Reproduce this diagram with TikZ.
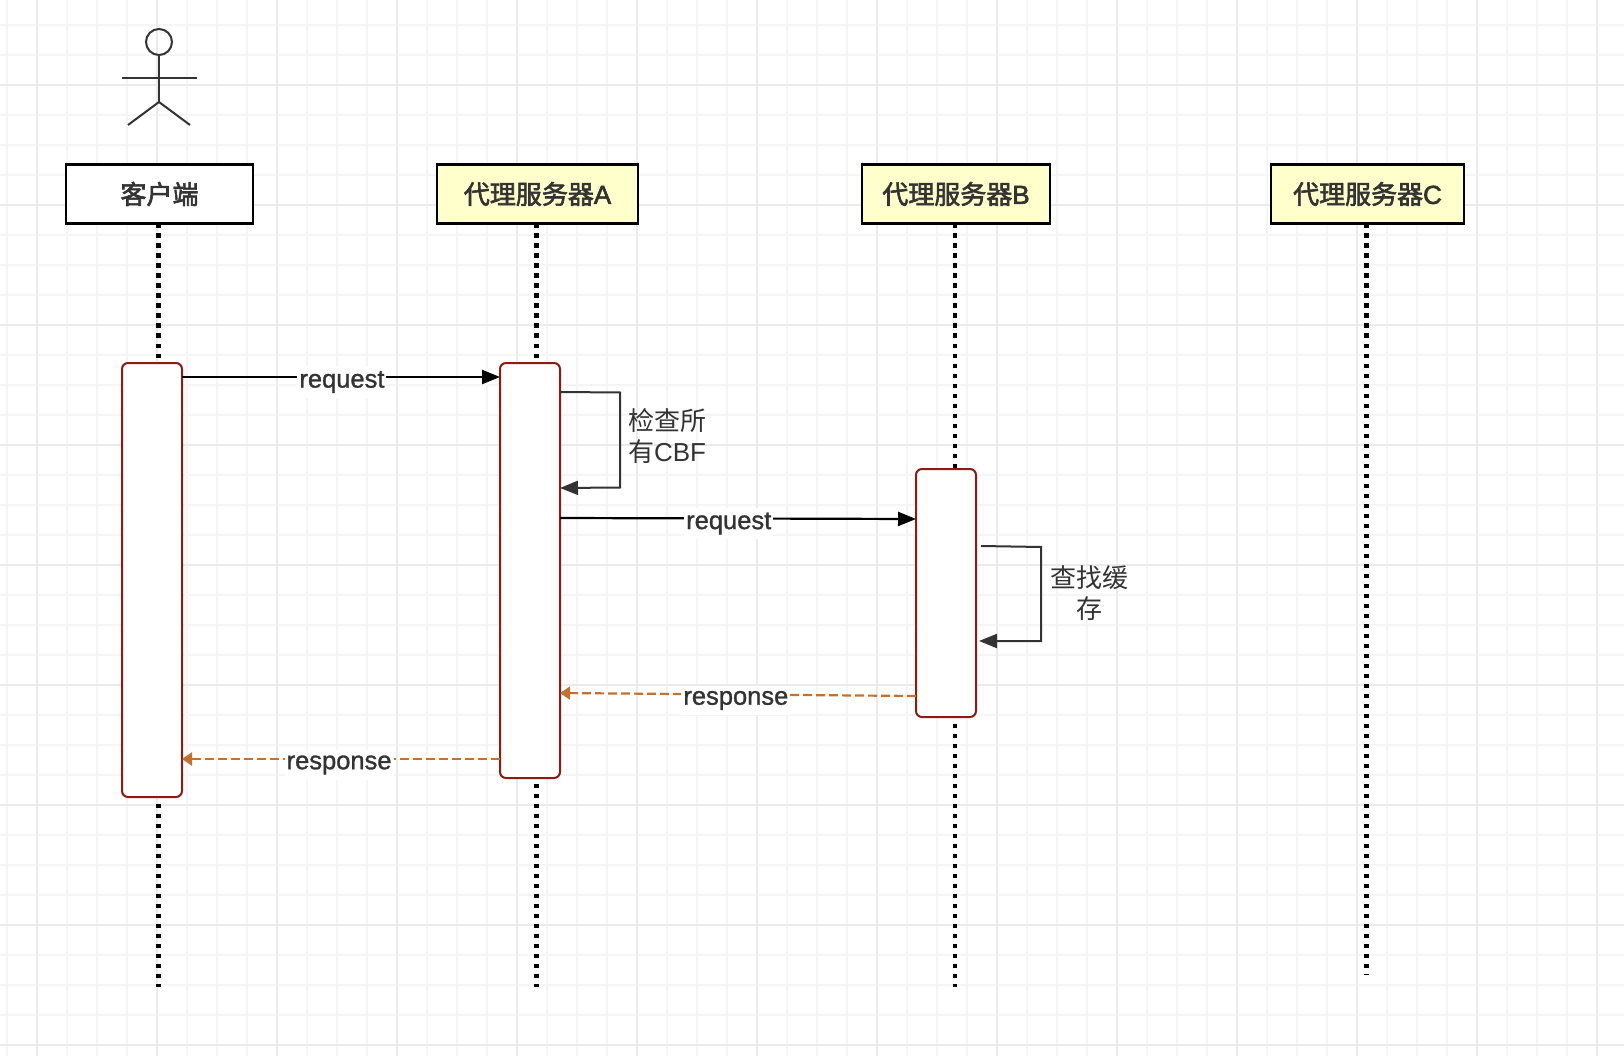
\documentclass[tikz,border=0pt]{standalone}
\usepackage{fontspec}
\setmainfont{Liberation Sans}
\newfontfamily\cjk{Noto Sans CJK SC}
\usepackage{tikz}
\usetikzlibrary{arrows.meta}
\definecolor{gridminor}{HTML}{F5F5F5}
\definecolor{gridmajor}{HTML}{EBEBEB}
\definecolor{noteyellow}{HTML}{FFFFCC}
\definecolor{activered}{HTML}{8F1A12}
\definecolor{replyorange}{HTML}{C4702E}
\definecolor{inkgrey}{HTML}{333333}
% outlined text, a bit heavier than the regular weight
\newcommand{\heavytext}[2]{\special{pdf:code q 2 Tr #1 w 0.2 0.2 0.2 RG}#2\special{pdf:code Q}}
\tikzset{
  head/.style = {draw = black, line width = 2.2pt, minimum height = 59pt, inner sep = 0pt,
                 outer sep = 0pt, text = inkgrey, font = \fontsize{26}{30}\selectfont},
  lifeline/.style = {line width = 4.5pt, dash pattern = on 4.5pt off 5.5pt},
  activation/.style = {draw = activered, fill = white, line width = 2pt, rounded corners = 6pt,
                       minimum width = 60pt, inner sep = 0pt, outer sep = 0pt},
  request/.style = {draw = black, line width = 2.2pt, -{Triangle[length = 18pt, width = 14pt]}},
  selfcall/.style = {draw = inkgrey, line width = 2pt, -{Triangle[length = 18pt, width = 14pt]}},
  response/.style = {draw = replyorange, line width = 2.2pt, dash pattern = on 9pt off 4pt,
                     -{Triangle[length = 10pt, width = 13pt]}},
  msg/.style = {fill = white, text = inkgrey, inner xsep = 2pt, inner ysep = 5pt,
                font = \fontsize{25.5}{30}\selectfont},
  note/.style = {text = inkgrey, align = center, inner sep = 0pt,
                 font = \fontsize{26}{31.5}\selectfont}
}

\begin{document}
\begin{tikzpicture}[x = 1pt, y = -1pt]
      \useasboundingbox (0, 0) rectangle (1624, 1056);
      \fill [white] (0, 0) rectangle (1624, 1056);
      % background grid
      \begin{scope}
        \clip (0, 0) rectangle (1624, 1056);
        \foreach \gx in {0, ..., 54}
          \draw [gridminor, line width = 2pt] ({7 + 30 * \gx}, 0) -- ++(0, 1056);
        \foreach \gy in {0, ..., 35}
          \draw [gridminor, line width = 2pt] (0, {25 + 30 * \gy}) -- ++(1624, 0);
        \foreach \gx in {0, ..., 13}
          \draw [gridmajor, line width = 2pt] ({37 + 120 * \gx}, 0) -- ++(0, 1056);
        \foreach \gy in {0, ..., 8}
          \draw [gridmajor, line width = 2pt] (0, {85 + 120 * \gy}) -- ++(1624, 0);
      \end{scope}

      % stick figure
      \node [circle, draw = inkgrey, line width = 2pt, minimum size = 26pt, inner sep = 0pt,
             outer sep = 0pt] (actorHead) at (159, 42) {};
      \coordinate (actorHip) at (159, 102);
      \coordinate (actorArmL) at (122, 78);
      \coordinate (actorArmR) at (197, 78);
      \coordinate (actorFootL) at (128, 125);
      \coordinate (actorFootR) at (190, 125);
      \draw [inkgrey, line width = 2pt] (actorHead.south) -- (actorHip);
      \draw [inkgrey, line width = 2pt] (actorArmL) -- (actorArmR);
      \draw [inkgrey, line width = 2pt] (actorFootL) -- (actorHip) -- (actorFootR);

      % heads of the lifelines
      \node [head, fill = white, minimum width = 187pt] (client) at (159.5, 194) {\heavytext{0.6}{\cjk 客户端}};
      \node [head, fill = noteyellow, minimum width = 201pt] (proxyA) at (537.5, 194) {\heavytext{0.6}{{\cjk 代理服务器}A}};
      \node [head, fill = noteyellow, minimum width = 188pt] (proxyB) at (956, 194) {\heavytext{0.6}{{\cjk 代理服务器}B}};
      \node [head, fill = noteyellow, minimum width = 193pt] (proxyC) at (1367.5, 194) {\heavytext{0.6}{{\cjk 代理服务器}C}};

      % lifelines
      \coordinate (clientEnd) at (158.5, 987);
      \coordinate (proxyAEnd) at (536.5, 987);
      \coordinate (proxyBEnd) at (955, 987);
      \coordinate (proxyCEnd) at (1366.5, 974);
      \draw [lifeline] (client.south -| clientEnd) -- (clientEnd);
      \draw [lifeline] (proxyA.south -| proxyAEnd) -- (proxyAEnd);
      \draw [lifeline] (proxyB.south -| proxyBEnd) -- (proxyBEnd);
      \draw [lifeline] (proxyC.south -| proxyCEnd) -- (proxyCEnd);

      % activation bars
      \node [activation, minimum height = 434pt] (actClient) at (152, 580) {};
      \node [activation, minimum height = 415pt] (actA) at (530, 570.5) {};
      \node [activation, minimum height = 248pt] (actB) at (946, 593) {};

      % calls and replies
      \draw [request] ([yshift = -14pt] actClient.north east)
        -- node [msg, pos = 0.503, yshift = -5pt] {\heavytext{0.3}{request}} ([yshift = -14pt] actA.north west);
      \draw [selfcall] ([yshift = -29pt] actA.north east) -- ++(60, 0.5) -- ++(0, 95) -- ([yshift = -125pt] actA.north east);
      \draw [request] ([yshift = -155pt] actA.north east)
        -- node [msg, pos = 0.474, yshift = -5pt] {\heavytext{0.3}{request}} ([yshift = -50pt] actB.north west);
      \draw [selfcall] ([xshift = 5pt, yshift = -77pt] actB.north east) -- ++(60, 1) -- ++(0, 94) -- ([xshift = 3pt, yshift = -172pt] actB.north east);
      \draw [response] ([yshift = 21pt] actB.south west)
        -- node [msg, pos = 0.506, yshift = -6pt] {\heavytext{0.3}{response}} ([yshift = 85pt] actA.south east);
      \draw [response] ([yshift = 19pt] actA.south west)
        -- node [msg, pos = 0.506, yshift = -6pt] {\heavytext{0.3}{response}} ([yshift = 38pt] actClient.south east);

      % notes beside the self calls
      \node [note] (noteA) at (667, 436) {{\cjk 检查所}\\{\cjk 有}CBF};
      \node [note] (noteB) at (1089, 593) {{\cjk 查找缓}\\{\cjk 存}};
    \end{tikzpicture}
\end{document}
